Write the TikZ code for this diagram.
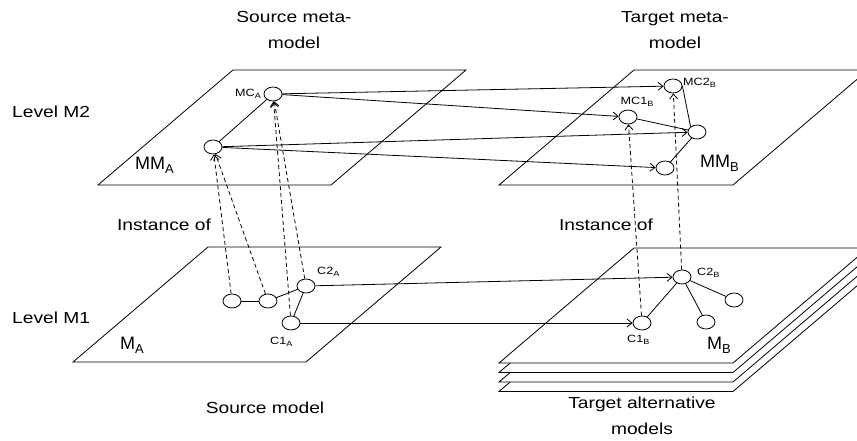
\documentclass[tikz,border=0pt]{standalone}
\usepackage{fontspec}
\setmainfont{Liberation Sans}
\newfontfamily\widefont[FakeStretch=1.2]{Liberation Sans}
\usetikzlibrary{arrows.meta,shapes.geometric}

% lowered, reduced index for class and model names
\newcommand\lsub[1]{\raisebox{-0.45ex}{\scalebox{0.72}{#1}}}

\tikzset{
  plane/.style={draw, line width=0.8pt, fill=white},
  cls/.style={draw, ellipse, minimum width=18pt, minimum height=14pt,
              inner sep=0pt, line width=0.8pt, fill=white},
  link/.style={line width=0.8pt},
  arr/.style={link, -{Straight Barb[length=5pt,width=8pt]}},
  inst/.style={arr, dash pattern=on 4pt off 3pt},
  big/.style={font=\widefont\fontsize{16}{26}\selectfont, inner sep=0pt, align=center},
  small/.style={font=\widefont\fontsize{10.5}{12}\selectfont, inner sep=0pt},
  plab/.style={font=\fontsize{18}{21}\selectfont, inner sep=0pt},
}

\begin{document}
\begin{tikzpicture}[x=1pt, y=-1pt]
\useasboundingbox (0,0) rectangle (857,441);
\clip (0,0) rectangle (857,441);

% ---- planes ----
% meta-models (level M2)
\draw[plane] (98,185) -- (331,185) -- (466,70) -- (233,70) -- cycle;
\draw[plane] (499,185) -- (733,185) -- (868,70) -- (634,70) -- cycle;
% source model (level M1)
\draw[plane] (73,362) -- (306,362) -- (441,247) -- (208,247) -- cycle;
% stack of alternative target models
\foreach \d in {28.5,19,9.5,0}{
  \draw[plane] (499,363+\d) -- (733,363+\d) -- (868,248+\d) -- (634,248+\d) -- cycle;
}

% ---- headings ----
\node[big] (tsrc) at (294,30) {Source meta-\\model};
\node[big] (ttgt) at (675,30) {Target meta-\\model};
\node[big, anchor=west] (lm2) at (12,112) {Level M2};
\node[big, anchor=west] (lm1) at (12,318) {Level M1};
\node[big] (ins1) at (164,225) {Instance of};
\node[big] (ins2) at (606,225) {Instance of};
\node[big] (bsrc) at (265,408) {Source model};
\node[big] (btgt) at (642,416) {Target alternative\\models};

% ---- plane names ----
\node[plab, anchor=west] (nmma) at (135,165) {MM\lsub{A}};
\node[plab, anchor=west] (nmmb) at (700,163) {MM\lsub{B}};
\node[plab, anchor=west] (nma) at (120,345) {M\lsub{A}};
\node[plab, anchor=west] (nmb) at (707,345) {M\lsub{B}};

% ---- classes ----
\node[cls] (mca)  at (273,94)  {};
\node[cls] (mma2) at (213,147) {};
\node[cls] (mc2b) at (673,86)  {};
\node[cls] (mc1b) at (628,117) {};
\node[cls] (mbr)  at (697,132) {};
\node[cls] (mbb)  at (665,168) {};
\node[cls] (a1)   at (232,301) {};
\node[cls] (a2)   at (268,301) {};
\node[cls] (c2a)  at (306,286) {};
\node[cls] (c1a)  at (291,323) {};
\node[cls] (c2b)  at (682,277) {};
\node[cls] (c1b)  at (642,323) {};
\node[cls] (b3)   at (734,300) {};
\node[cls] (b4)   at (706,322) {};

% ---- class names ----
\node[small, anchor=east] (lmca) at (261,94)  {MC\lsub{A}};
\node[small, anchor=west] (lmc2b) at (683,83) {MC2\lsub{B}};
\node[small] (lmc1b) at (637,102) {MC1\lsub{B}};
\node[small, anchor=west] (lc2a) at (317,272) {C2\lsub{A}};
\node[small, anchor=west] (lc1a) at (270,342) {C1\lsub{A}};
\node[small, anchor=west] (lc2b) at (697,273) {C2\lsub{B}};
\node[small, anchor=west] (lc1b) at (627,340) {C1\lsub{B}};

% ---- relations inside the models ----
\draw[link] (mma2) -- (mca);
\draw[link] (mc1b) -- (mbr);
\draw[link] (mc2b.east) -- (mbr.140);
\draw[link] (mbb) -- (mbr);
\draw[link] (a1) -- (a2);
\draw[link] (a2) -- (c2a);
\draw[link] (c2a) -- (c1a);
\draw[link] (c1b) -- (c2b);
\draw[link] (c2b) -- (b3);
\draw[link] (c2b) -- (b4);

% ---- mappings between models ----
\draw[arr] (mca) -- (mc2b);
\draw[arr] (mca) -- (mc1b);
\draw[arr] (mma2) -- (mbr);
\draw[arr] (mma2) -- (mbb);
\draw[arr] (c2a) -- (c2b);
\draw[arr] (c1a) -- (c1b);

% ---- instance-of relations ----
\draw[inst] (a1) -- (mma2);
\draw[inst] (a2) -- (mma2);
\draw[inst] (c2a) -- (mca);
\draw[inst] (c1a) -- (mca);
\draw[inst] (c1b) -- (mc1b);
\draw[inst] (c2b) -- (mc2b);
\end{tikzpicture}
\end{document}
